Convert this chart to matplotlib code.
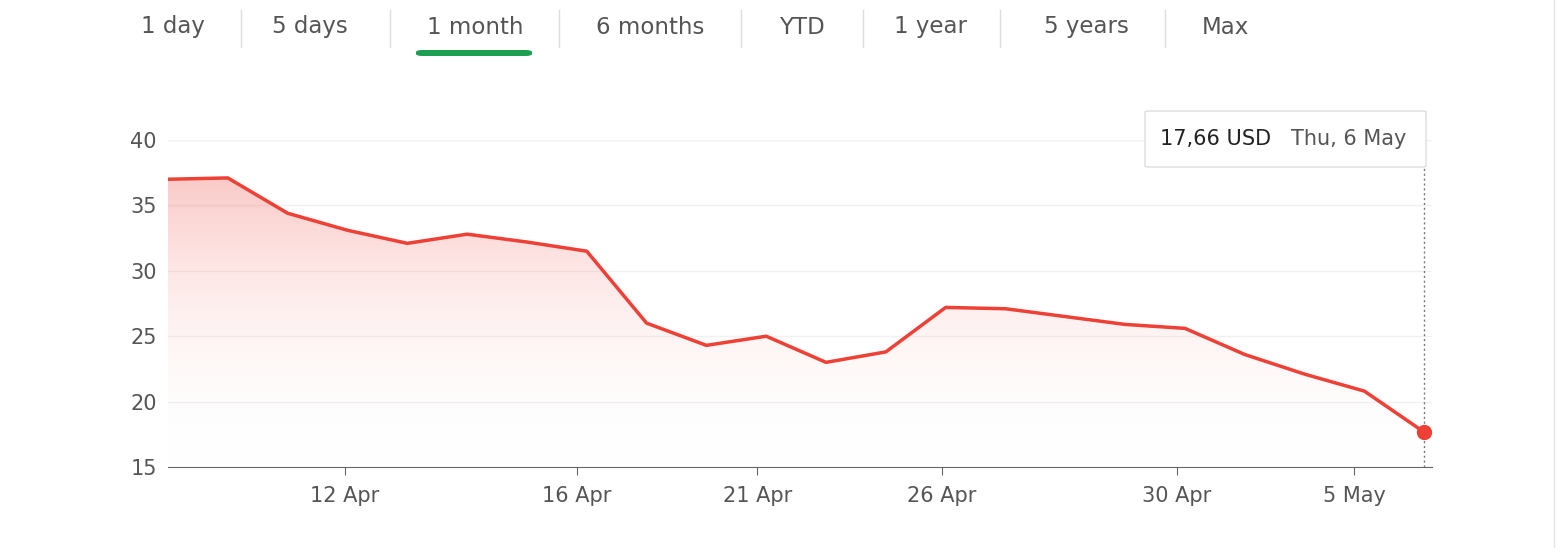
import matplotlib
matplotlib.use("Agg")
import matplotlib.pyplot as plt
import numpy as np
from matplotlib.patches import Polygon, FancyBboxPatch

prices = [37.0, 37.1, 34.4, 33.1, 32.1, 32.8, 32.2, 31.5, 26.0, 24.3, 25.0, 23.0,
          23.8, 27.2, 27.1, 26.5, 25.9, 25.6, 23.6, 22.1, 20.8, 17.66]
tick_pos = [2.96, 6.84, 9.85, 12.94, 16.86, 19.83]
tick_labels = ["12 Apr", "16 Apr", "21 Apr", "26 Apr", "30 Apr", "5 May"]
y_ticks = [15, 20, 25, 30, 35, 40]
tabs = ["1 day", "5 days", "1 month", "6 months", "YTD", "1 year", "5 years", "Max"]
tab_x = [173, 310, 475, 650, 802, 931, 1086, 1225]
sep_x = [241, 390, 559, 741, 863, 1000, 1165]

W, H = 1566, 548
fig = plt.figure(figsize=(W/100, H/100), dpi=100)
ax = fig.add_axes([168/W, 1-467/H, (1432-168)/W, (467-140)/H])
x = np.arange(len(prices))
red = "#ee4035"
ax.set_xlim(0, 21.13)
ax.set_ylim(15, 40)

# gradient fill
grad = np.linspace(0, 1, 256).reshape(-1, 1)
from matplotlib.colors import LinearSegmentedColormap
cmap = LinearSegmentedColormap.from_list("g", [(1, 1, 1, 0), (0.93, 0.25, 0.21, 0.28)])
im = ax.imshow(grad, extent=[0, x[-1], 15, 37.1], origin="lower", aspect="auto",
               cmap=cmap, zorder=1)
poly = Polygon(list(zip(x, prices)) + [(x[-1], 15), (0, 15)], closed=True,
               transform=ax.transData, facecolor="none", edgecolor="none")
ax.add_patch(poly)
im.set_clip_path(poly)

ax.plot(x, prices, color=red, lw=2.5, zorder=3, solid_joinstyle="round")
ax.plot([x[-1]], [prices[-1]], "o", color=red, ms=10, zorder=4, clip_on=False)
ax.plot([x[-1], x[-1]], [15, 40.8], ls=(0, (1.5, 2)), color="#777777", lw=1, clip_on=False, zorder=2)

for yv in y_ticks[1:]:
    ax.axhline(yv, color="#f1f1f1", lw=1, zorder=0)
for s in ["top", "right", "left"]:
    ax.spines[s].set_visible(False)
ax.spines["bottom"].set_color("#666666")
ax.set_yticks(y_ticks)
ax.set_yticklabels([str(v) for v in y_ticks], fontsize=15, color="#555555")
ax.tick_params(axis="y", length=0, pad=8)
ax.set_xticks(tick_pos)
ax.set_xticklabels(tick_labels, fontsize=15, color="#555555")
ax.tick_params(axis="x", length=6, color="#666666", pad=8)

# tabs
for t, tx in zip(tabs, tab_x):
    fig.text(tx/W, 1-27/H, t, ha="center", va="center", fontsize=16.5, color="#555555")
for sx in sep_x:
    fig.add_artist(plt.Line2D([sx/W, sx/W], [1-10/H, 1-47/H], color="#dddddd", lw=1))
fig.add_artist(FancyBboxPatch((416/W, 1-56/H), 116/W, 6/H,
                              boxstyle="round,pad=0,rounding_size=0.004",
                              facecolor="#1e9e50", edgecolor="none", transform=fig.transFigure))

# tooltip
fig.add_artist(FancyBboxPatch((1145/W, 1-167/H), 281/W, 56/H,
                              boxstyle="round,pad=0,rounding_size=0.002",
                              facecolor="white", edgecolor="#dddddd", lw=1,
                              transform=fig.transFigure, zorder=5))
fig.text(1160/W, 1-139/H, "17,66 USD", ha="left", va="center", fontsize=15, color="#222222", zorder=6)
fig.text(1291/W, 1-139/H, "Thu, 6 May", ha="left", va="center", fontsize=15, color="#555555", zorder=6)

fig.add_artist(plt.Line2D([1554/W, 1554/W], [0, 1], color="#e5e5e5", lw=1))
fig.savefig("out.png", dpi=100, facecolor="white")
